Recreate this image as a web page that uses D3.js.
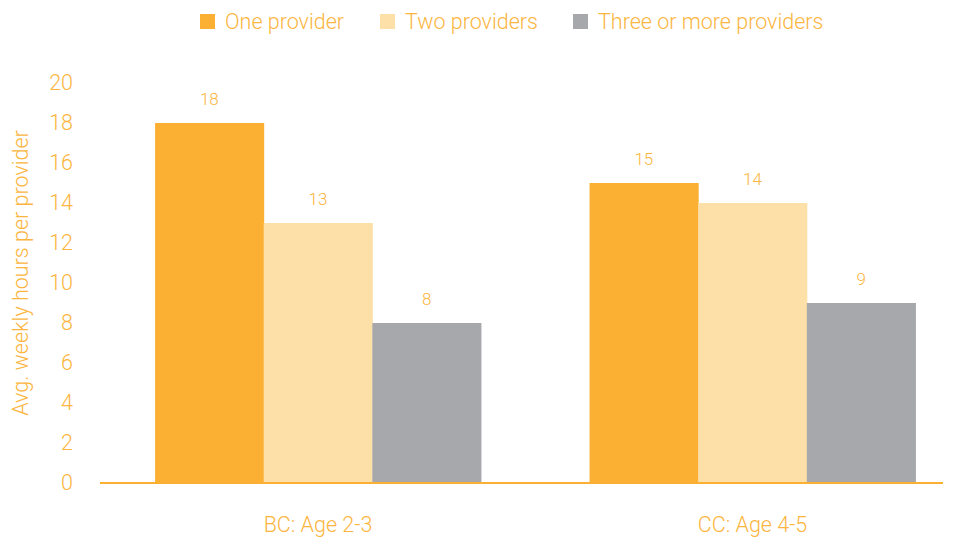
<!DOCTYPE html>
<html><head><meta charset="utf-8">
<script src="https://cdn.jsdelivr.net/npm/d3@7"></script>
<style>
body{margin:0;background:#fff;}
text{font-family:Roboto,"Liberation Sans",sans-serif;font-weight:300;fill:#FBB540;}
</style></head><body>
<svg id="c" width="958" height="540"></svg>
<script>
const categories = ["BC: Age 2-3", "CC: Age 4-5"];
const seriesNames = ["One provider", "Two providers", "Three or more providers"];
const oneProvider = [18, 15];
const twoProviders = [13, 14];
const threePlus = [8, 9];
const yTicks = [0, 2, 4, 6, 8, 10, 12, 14, 16, 18, 20];
const colors = ["#FBB034", "#FDDFA8", "#A7A8AC"];
const series = [oneProvider, twoProviders, threePlus];

const FONT = "Roboto, 'Liberation Sans', sans-serif";
const svg = d3.select("#c");
const y = d3.scaleLinear().domain([0, 20]).range([483, 83]);
const x0 = d3.scaleBand().domain(categories).range([100.75, 969.75]).paddingInner(0.25).paddingOuter(0.125);
const x1 = d3.scaleBand().domain(seriesNames).range([0, x0.bandwidth()]);

// bars
categories.forEach((c, ci) => {
  seriesNames.forEach((s, si) => {
    const v = series[si][ci];
    svg.append("rect")
      .attr("x", x0(c) + x1(s))
      .attr("y", y(v))
      .attr("width", x1.bandwidth() + 0.5)
      .attr("height", y(0) - y(v))
      .attr("fill", colors[si]);
    svg.append("text")
      .attr("x", x0(c) + x1(s) + x1.bandwidth() / 2)
      .attr("y", y(v) - 18)
      .attr("text-anchor", "middle")
      .attr("font-size", 17)
      .text(v);
  });
});

// baseline
svg.append("line").attr("x1", 100).attr("x2", 943).attr("y1", y(0)).attr("y2", y(0))
  .attr("stroke", "#FBB034").attr("stroke-width", 2);

// y axis
const yAxis = d3.axisLeft(y).tickValues(yTicks).tickSize(0).tickPadding(0);
const gy = svg.append("g").attr("transform", "translate(73,0)").call(yAxis);
gy.select(".domain").remove();
gy.selectAll("text").attr("font-size", 21.5).attr("fill", "#FBB540")
  .style("font-family", FONT).style("font-weight", 300);

// x labels
const xAxis = d3.axisBottom(x0).tickSize(0).tickPadding(0);
const gx = svg.append("g").attr("transform", "translate(0,517)").call(xAxis);
gx.select(".domain").remove();
gx.selectAll("text").attr("font-size", 21.5).attr("fill", "#FBB540")
  .style("font-family", FONT).style("font-weight", 300);

// y title
svg.append("text").attr("transform", "translate(28,273) rotate(-90)")
  .attr("text-anchor", "middle").attr("font-size", 21.5)
  .text("Avg. weekly hours per provider");

// legend
const legendX = [200, 380, 573];
seriesNames.forEach((s, i) => {
  svg.append("rect").attr("x", legendX[i]).attr("y", 14).attr("width", 15).attr("height", 15).attr("fill", colors[i]);
  svg.append("text").attr("x", legendX[i] + 25).attr("y", 29).attr("font-size", 21.5).text(s);
});
</script></body></html>
